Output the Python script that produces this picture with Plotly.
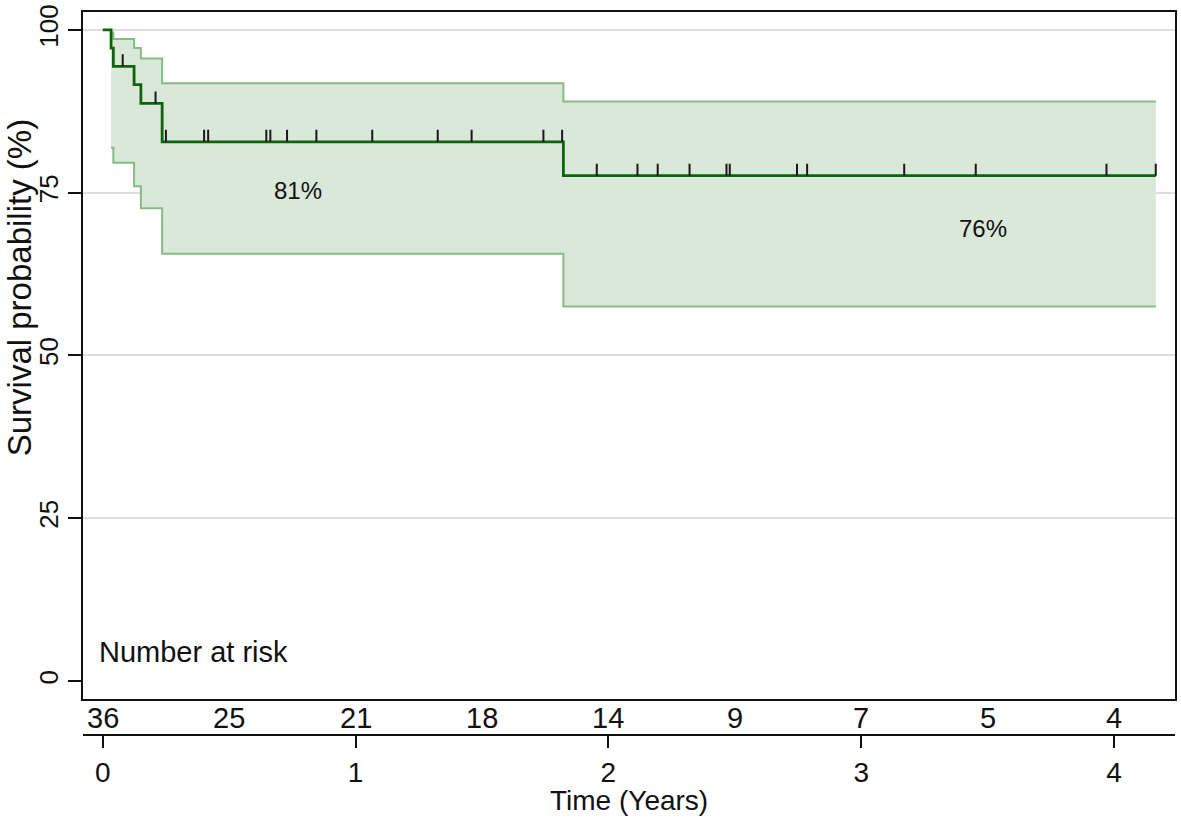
import numpy as np
import plotly.graph_objects as go

# ---- data ----
step_times = [0.0, 0.033, 0.042, 0.124, 0.151, 0.235, 1.822, 4.165]
surv = [100.0, 97.2, 94.4, 91.6, 88.7, 82.8, 77.6, 77.6]

ci_times = [0.033, 0.042, 0.124, 0.151, 0.235, 1.822, 4.165]
ci_lower = [81.9, 79.6, 76.0, 72.6, 65.6, 57.5, 57.5]
ci_upper = [99.6, 98.6, 97.2, 95.6, 91.8, 89.0, 89.0]

censor_times = [0.079, 0.209, 0.250, 0.401, 0.417, 0.647, 0.663, 0.729, 0.845,
                1.066, 1.325, 1.459, 1.743, 1.817, 1.954, 2.115, 2.195, 2.321,
                2.467, 2.480, 2.746, 2.786, 3.170, 3.453, 3.970, 4.165]

risk_times = [0, 0.5, 1, 1.5, 2, 2.5, 3, 3.5, 4]
risk_counts = [36, 25, 21, 18, 14, 9, 7, 5, 4]

x_ticks = [0, 1, 2, 3, 4]
y_ticks = [0, 25, 50, 75, 100]
grid_ticks = [25, 50, 75, 100]

label_times = [0.772, 3.48]
label_levels = [75.3, 69.5]
label_texts = ["81%", "76%"]

# ---- styling ----
FONT = "Liberation Sans, Arial, sans-serif"
CURVE = "#0d640d"
BAND_FILL = "#d9e8d9"
BAND_LINE = "#86bb86"
X_RANGE = [-0.078, 4.241]
Y_RANGE = [-2.79, 102.74]

st = np.array(step_times)
sv = np.array(surv)
ct = np.array(censor_times)
censor_surv = sv[np.searchsorted(st, ct, side="right") - 1]
tick_height = 1.85  # censor tick height in % units

fig = go.Figure()

fig.add_trace(go.Scatter(x=ci_times, y=ci_lower, mode="lines",
                         line=dict(color=BAND_LINE, width=2, shape="hv"),
                         hoverinfo="skip", showlegend=False))
fig.add_trace(go.Scatter(x=ci_times, y=ci_upper, mode="lines",
                         line=dict(color=BAND_LINE, width=2, shape="hv"),
                         fill="tonexty", fillcolor=BAND_FILL,
                         hoverinfo="skip", showlegend=False))
fig.add_trace(go.Scatter(x=step_times, y=surv, mode="lines",
                         line=dict(color=CURVE, width=2.8, shape="hv"),
                         showlegend=False))
fig.add_trace(go.Scatter(x=censor_times, y=censor_surv, mode="markers",
                         marker=dict(size=1, color="rgba(0,0,0,0)"),
                         error_y=dict(type="data", symmetric=False,
                                      array=[tick_height] * len(censor_times),
                                      arrayminus=[0] * len(censor_times),
                                      width=0, thickness=2, color="#1a1a1a"),
                         showlegend=False))
# invisible trace to bind the time axis below the risk table
fig.add_trace(go.Scatter(x=[x_ticks[0]], y=[None], xaxis="x2", yaxis="y",
                         mode="markers", showlegend=False, hoverinfo="skip"))
# invisible trace for grid axis
fig.add_trace(go.Scatter(x=[None], y=[grid_ticks[0]], xaxis="x", yaxis="y2",
                         mode="markers", showlegend=False, hoverinfo="skip"))

annotations = []
for t, lv, tx in zip(label_times, label_levels, label_texts):
    annotations.append(dict(x=t, y=lv, xref="x", yref="y", text=tx,
                            showarrow=False, xanchor="center", yanchor="middle",
                            font=dict(family=FONT, size=24, color="#111")))
annotations.append(dict(x=-0.022, y=4.4, xref="x", yref="y", text="Number at risk",
                        showarrow=False, xanchor="left", yanchor="middle",
                        font=dict(family=FONT, size=29, color="#111")))
for t, n in zip(risk_times, risk_counts):
    annotations.append(dict(x=t, y=0.0234, xref="x", yref="paper", text=str(n),
                            showarrow=False, xanchor="center", yanchor="middle",
                            font=dict(family=FONT, size=29, color="#111")))
annotations.append(dict(x=0.5, y=-0.0905, xref="paper", yref="paper",
                        text="Time (Years)", showarrow=False,
                        xanchor="center", yanchor="middle",
                        font=dict(family=FONT, size=28, color="#111")))
annotations.append(dict(x=-0.0585, y=0.618, xref="paper", yref="paper",
                        text="Survival probability (%)", showarrow=False,
                        textangle=-90, xanchor="center", yanchor="middle",
                        font=dict(family=FONT, size=33, color="#111")))

fig.update_layout(
    width=1181, height=821,
    margin=dict(l=83, r=4, t=7, b=86),
    paper_bgcolor="white", plot_bgcolor="white",
    font=dict(family=FONT, color="#111"),
    showlegend=False,
    annotations=annotations,
    xaxis=dict(range=X_RANGE, domain=[0, 1], anchor="y",
               showgrid=False, zeroline=False, showticklabels=False,
               ticks="", showline=True, mirror=True,
               linecolor="#111", linewidth=2),
    xaxis2=dict(range=X_RANGE, overlaying="x", anchor="free", position=0,
                side="bottom", tickvals=x_ticks, ticks="outside", ticklen=12,
                tickwidth=2, tickcolor="#111", showline=True, linecolor="#111",
                linewidth=2, showgrid=False, zeroline=False,
                tickfont=dict(family=FONT, size=28, color="#111")),
    yaxis=dict(range=Y_RANGE, domain=[0.0495, 1], anchor="x",
               tickvals=y_ticks, ticks="outside", ticklen=13, tickwidth=2,
               tickcolor="#111", tickangle=-90, showgrid=False, zeroline=False,
               showline=True, mirror=True, linecolor="#111", linewidth=2,
               ticklabeloverflow="allow",
               tickfont=dict(family=FONT, size=26, color="#111")),
    yaxis2=dict(range=Y_RANGE, overlaying="y", anchor="x", tickvals=grid_ticks,
                showticklabels=False, ticks="", showgrid=True,
                gridcolor="#dedede", gridwidth=1.5, zeroline=False,
                showline=False, layer="below traces"),
)

fig.write_html("out.html",
               config={"displayModeBar": False},
               post_script="document.body.style.margin='0';"
                           "document.body.style.overflow='hidden';")
